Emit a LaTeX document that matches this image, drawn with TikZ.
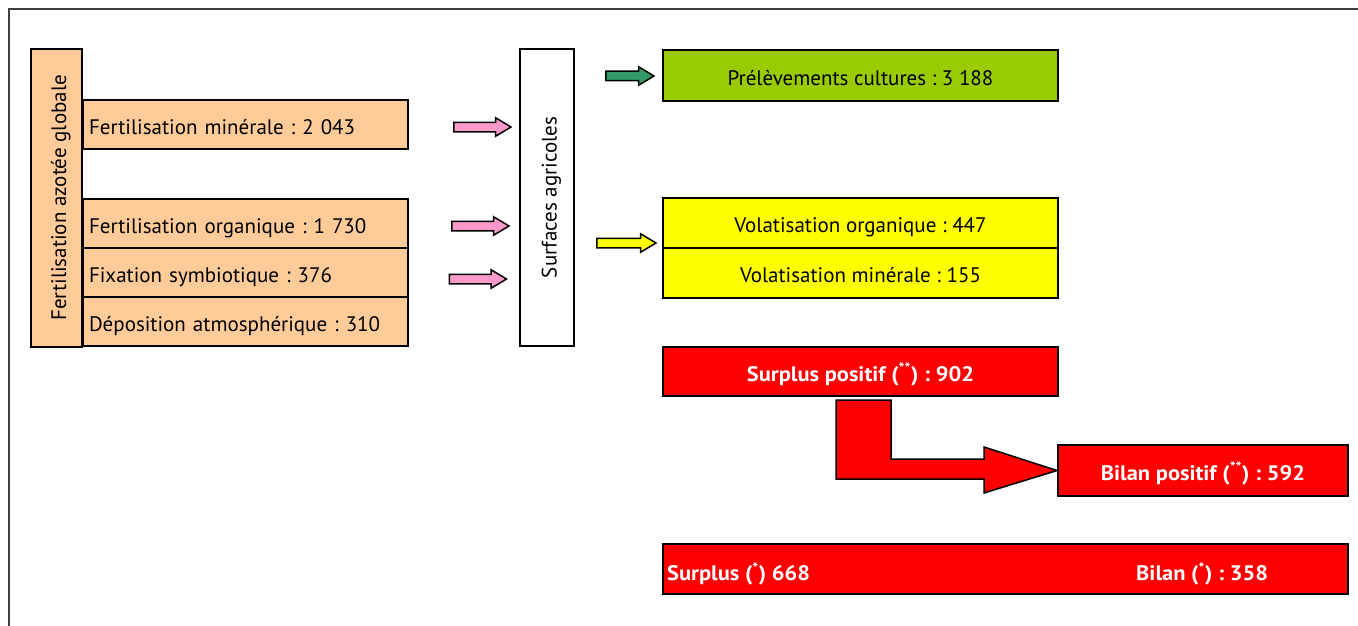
\documentclass[tikz,border=0pt]{standalone}
\usepackage{fontspec}
\setmainfont{PT Sans}
\newfontfamily\redfont[FakeStretch=1.07]{PT Sans}
\usetikzlibrary{shapes.arrows}
\usetikzlibrary{positioning}
\definecolor{peche}{HTML}{FFCC99}
\definecolor{rose}{HTML}{FF99CC}
\definecolor{vert}{HTML}{99CC00}
\definecolor{vertfonce}{HTML}{339966}
\definecolor{jaune}{HTML}{FFFF00}
\definecolor{rouge}{HTML}{FF0000}
\frenchspacing

\begin{document}
\begin{tikzpicture}[x=1pt,y=-1pt,
  boite/.style={draw=black,line width=2pt,inner sep=6pt,text height=19pt,text depth=0pt,font=\fontsize{21}{24}\selectfont},
  gauche/.style={boite,fill=peche,anchor=north west,minimum height=49pt,text width=313pt,align=left},
  droite/.style={boite,anchor=north west,minimum width=395pt,minimum height=50pt,align=center},
  rougebox/.style={droite,fill=rouge,text=white,font=\fontsize{21}{24}\redfont\bfseries},
  fleche/.style={single arrow,draw=black,line width=1.5pt,inner xsep=0pt,inner ysep=4pt,
    single arrow head extend=4.5pt,single arrow tip angle=62,minimum height=57pt}]
\useasboundingbox (0,0) rectangle (1358,626);
\draw[line width=1.5pt,black!75] (9,626) -- (9,9) -- (1358,9);

\node[boite,fill=peche,rotate=90,minimum width=298pt,minimum height=51pt] (globale) at (56.5,198) {Fertilisation azotée globale};
\node[gauche] (mineral) at (82,99) {Fertilisation minérale : 2 043};
\node[gauche] (organique) at (82,198) {Fertilisation organique : 1 730};
\node[gauche] (fixation) at (82,247) {Fixation symbiotique : 376};
\node[gauche] (deposition) at (82,296) {Déposition atmosphérique : 310};

\node[fleche,fill=rose] (f1) at (478.5,127) {};
\node[fleche,fill=rose] (f2) at (476.5,226) {};
\node[fleche,fill=rose] (f3) at (474,279) {};

\node[boite,fill=white,rotate=90,minimum width=297pt,minimum height=54pt] (surfaces) at (547,197.5) {Surfaces agricoles};

\node[fleche,fill=vertfonce,minimum height=48pt] (f4) at (626,76) {};
\node[fleche,fill=jaune,minimum height=59pt] (f5) at (622.5,243) {};

\node[droite,fill=vert,minimum height=51pt] (prelev) at (662,49) {Prélèvements cultures : 3 188};
\node[droite,fill=jaune] (volorg) at (662,197) {Volatisation organique : 447};
\node[droite,fill=jaune] (volmin) at (662,247) {Volatisation minérale : 155};
\node[rougebox,minimum height=49pt] (surpos) at (662,346) {Surplus positif (\textsuperscript{**}) : 902};
\node[rougebox,minimum width=290pt,minimum height=51pt] (bilpos) at (1057,444) {Bilan positif (\textsuperscript{**}) : 592};

\draw[fill=rouge,line width=1.5pt] (836,400) -- (891,400) -- (891,459) -- (984,459) -- (984,447)
  -- (bilpos.west) -- (984,493) -- (984,479) -- (836,479) -- cycle;

\node[rougebox,minimum width=685pt] (total) at (662,543) {};
\node[anchor=west,inner sep=0pt,text=white,font=\fontsize{21}{24}\redfont\bfseries] (surplus) at (667,574) {Surplus (\textsuperscript{*}) 668};
\node[anchor=west,inner sep=0pt,text=white,font=\fontsize{21}{24}\redfont\bfseries] (bilan) at (1136,574) {Bilan (\textsuperscript{*}) : 358};
\end{tikzpicture}
\end{document}
